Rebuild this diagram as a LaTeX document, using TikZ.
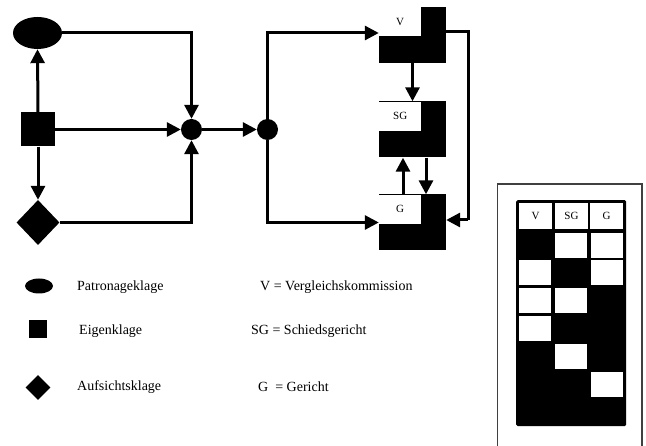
\documentclass[tikz,border=0pt]{standalone}
\usepackage{fontspec}
\setmainfont{Liberation Serif}
\usetikzlibrary{shapes.geometric,arrows.meta}
\begin{document}
\begin{tikzpicture}[x=1pt,y=-1pt,
  conn/.style={line width=3pt,-{Triangle[length=14pt,width=14pt]}},
  plain/.style={line width=3pt},
  blk/.style={fill=black,draw=none,inner sep=0pt},
  court/.style={fill=black,draw=none,inner sep=0pt,minimum width=67pt,minimum height=56pt},
  lab/.style={fill=white,draw=none,inner sep=0pt,minimum width=42pt,minimum height=29pt,font=\fontsize{11}{13}\selectfont},
  cell/.style={fill=white,draw=none,inner sep=0pt,minimum width=32pt,minimum height=25pt},
  hcell/.style={fill=white,draw=none,inner sep=0pt,minimum width=33pt,minimum height=26pt,font=\fontsize{11}{13}\selectfont},
  legtxt/.style={anchor=west,inner sep=0pt,font=\fontsize{14}{16}\selectfont}]
\useasboundingbox (0,0) rectangle (646,446);
\fill[white] (0,0) rectangle (646,446);
% left nodes
\node[blk,ellipse,minimum width=49pt,minimum height=32pt] (ell) at (37.5,33) {};
\node[blk,rectangle,minimum size=34pt] (sq) at (38,129.5) {};
\node[blk,diamond,minimum width=43pt,minimum height=45pt] (dia) at (38,222.5) {};
\node[blk,circle,minimum size=21pt] (c1) at (191.5,129.5) {};
\node[blk,circle,minimum size=21pt] (c2) at (267.5,129.5) {};
% courts
\node[court] (V) at (412.5,35) {};
\node[lab,anchor=north west] (Vl) at (379,7) {V};
\node[court] (SG) at (412.5,129.5) {};
\node[lab,anchor=north west] (SGl) at (379,101.5) {SG};
\node[court] (G) at (412.5,222.5) {};
\node[lab,anchor=north west] (Gl) at (379,194.5) {G};
% connectors left
\draw[conn] (sq.north) -- (ell.south);
\draw[conn] (sq.south) -- (dia.north);
\draw[conn] (sq.east) -- (c1.west);
\draw[conn] (ell.east) -| (c1.north);
\draw[conn] (dia.east) -| (c1.south);
\draw[conn] (c1.east) -- (c2.west);
\draw[conn] (c2.north) |- ([yshift=2pt]V.west);
\draw[conn] (c2.south) |- (G.west);
% connectors courts
\draw[conn] (V.south) -- (SG.north);
\draw[conn] ([xshift=13.5pt]SG.south) -- ([xshift=13.5pt]G.north);
\draw[conn] ([xshift=-9.5pt]G.north) -- ([xshift=-9.5pt]SG.south);
\coordinate (vr) at (468,32);
\coordinate (gr) at (468,220);
\draw[plain] (V.east |- vr) -- (vr) -- (gr);
\draw[conn] (gr) -- (G.east |- gr);
% legend
\node[blk,ellipse,minimum width=28pt,minimum height=15pt] (lell) at (39,286) {};
\node[blk,rectangle,minimum size=18pt] (lsq) at (38,329) {};
\node[blk,diamond,minimum width=25pt,minimum height=25pt] (ldia) at (38,387.5) {};
\node[legtxt] (t1) at (77,287) {Patronageklage};
\node[legtxt] (t2) at (79,331) {Eigenklage};
\node[legtxt] (t3) at (77,387) {Aufsichtsklage};
\node[legtxt] (t4) at (260,287) {V = Vergleichskommission};
\node[legtxt] (t5) at (251,331) {SG = Schiedsgericht};
\node[legtxt] (t6) at (258,387) {G\ \ = Gericht};
% right panel
\draw[line width=1.3pt,black!75] (497.5,446) -- (497.5,184) -- (642,184) -- (642,446);
\node[blk,rectangle,rounded corners=1.5pt,minimum width=110pt,minimum height=226pt,anchor=north west] (tab) at (516,200) {};
\node[hcell] (hV) at (535.5,216) {V};
\node[hcell] (hSG) at (571.5,216) {SG};
\node[hcell] (hG) at (606.5,216) {G};
\node[cell] (r1b) at (571,245.5) {};
\node[cell] (r1c) at (607,245.5) {};
\node[cell] (r2a) at (535,273) {};
\node[cell] (r2c) at (607,273) {};
\node[cell] (r3a) at (535,300.5) {};
\node[cell] (r3b) at (571,300.5) {};
\node[cell] (r4a) at (535,329) {};
\node[cell] (r5b) at (571,356.5) {};
\node[cell] (r6c) at (607,384.5) {};
\end{tikzpicture}
\end{document}
